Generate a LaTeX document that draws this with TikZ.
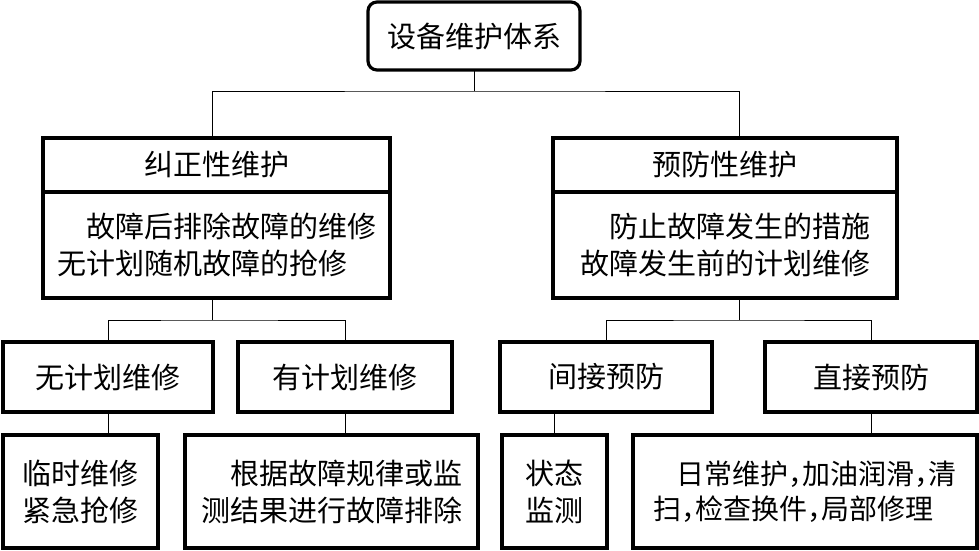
\documentclass[tikz,border=0pt]{standalone}
\usepackage{fontspec}
\setmainfont{Noto Sans CJK SC}
\usetikzlibrary{positioning}
\newcommand\cma{\makebox[.5em][l]{，}}

\begin{document}
\begin{tikzpicture}[x=1pt,y=-1pt,
  box/.style={draw,line width=3.2pt,inner sep=0pt,outer sep=0pt,align=center,
    font=\fontsize{29}{37}\selectfont},
  link/.style={line width=1pt}]
 \useasboundingbox (0,0) rectangle (979,551);
 \node[box,rounded corners=9pt,minimum width=212pt,minimum height=68pt] (sys) at (474,36) {设备维护体系};
 \node[box,minimum width=347pt,minimum height=54pt] (corrh) at (216.5,165) {纠正性维护};
 \node[box,minimum width=347pt,minimum height=106pt,align=left,below=0pt of corrh] (corrb)
   {\hspace*{1em}故障后排除故障的维修\\无计划随机故障的抢修};
 \node[box,minimum width=344pt,minimum height=54pt] (prevh) at (725,165) {预防性维护};
 \node[box,minimum width=344pt,minimum height=106pt,align=left,below=0pt of prevh] (prevb)
   {\hspace*{1em}防止故障发生的措施\\故障发生前的计划维修};
 \foreach \n/\x/\w/\t in {wjh/108/210/无计划维修,yjh/345/214/有计划维修,
    jj/606/212/间接预防,zj/871/212/直接预防}
   \node[box,minimum width=\w pt,minimum height=70pt] (\n) at (\x,377) {\t};
 \node[box,minimum width=155pt,minimum height=113pt] (ls) at (80.5,491.5) {临时维修\\紧急抢修};
 \node[box,minimum width=293pt,minimum height=113pt,align=left] (gj) at (331.5,491.5)
   {\hspace*{1em}根据故障规律或监\\测结果进行故障排除};
 \node[box,minimum width=105pt,minimum height=113pt] (zt) at (554.5,491.5) {状态\\监测};
 \node[box,minimum width=344pt,minimum height=113pt,align=left,
    font=\fontsize{28}{35}\selectfont] (rc) at (805,491.5)
   {\hspace*{.8em}日常维护\cma 加油润滑\cma 清\\扫\cma 检查换件\cma 局部修理};
 \coordinate (top) at (sys.south |- 0,91);
 \draw[link] (sys.south) -- (top);
 \draw[link] ([xshift=-4.5pt]corrh.north) |- (top) -| ([xshift=14pt]prevh.north);
 \coordinate (lbus) at ([xshift=-4.5pt]corrb.south |- 0,320);
 \coordinate (rbus) at ([xshift=14pt]prevb.south |- 0,320);
 \draw[link] ([xshift=-4.5pt]corrb.south) -- (lbus);
 \draw[link] ([xshift=14pt]prevb.south) -- (rbus);
 \draw[link] (wjh.north) |- (lbus) -| (yjh.north);
 \draw[link] (jj.north) |- (rbus) -| (zj.north);
 \draw[link] (wjh.south) -- (wjh.south |- ls.north);
 \draw[link] (yjh.south) -- (yjh.south |- gj.north);
 \draw[link] (zt.north |- jj.south) -- (zt.north);
 \draw[link] (zj.south) -- (zj.south |- rc.north);
\end{tikzpicture}
\end{document}
